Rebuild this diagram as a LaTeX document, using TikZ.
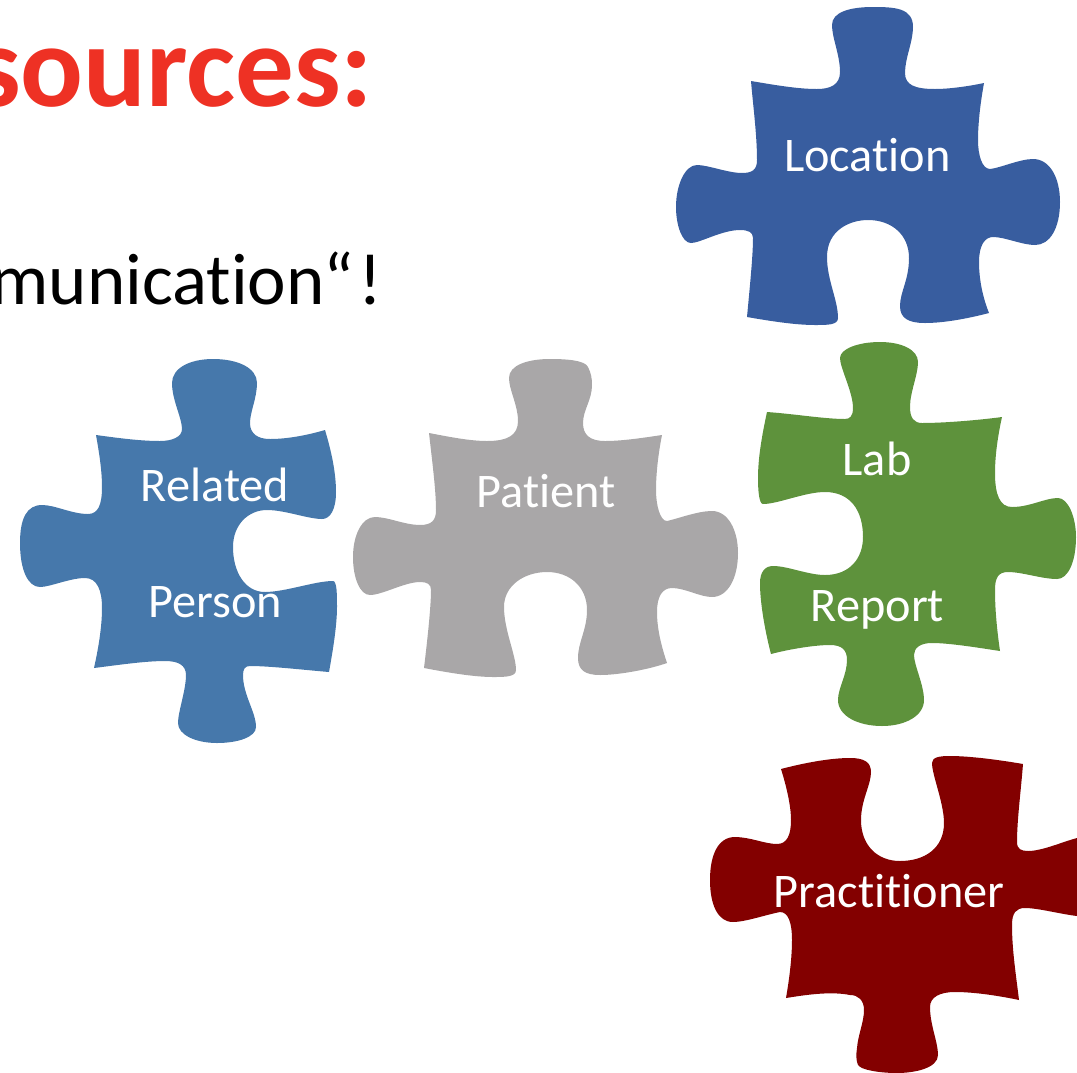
\documentclass[tikz,border=0pt]{standalone}
\usepackage{fontspec}
\setmainfont{Carlito}[Ligatures=CommonOff]
\definecolor{locblue}{HTML}{385D9F}
\definecolor{relblue}{HTML}{4678AB}
\definecolor{patgray}{HTML}{A9A7A8}
\definecolor{labgreen}{HTML}{5E923C}
\definecolor{pracred}{HTML}{830000}
\definecolor{titlered}{HTML}{EE3124}
\tikzset{
  piecelabel/.style={text=white,font=\fontsize{48.3}{56}\selectfont,inner sep=0pt,anchor=base},
  piece/.style={draw=none}
}
\begin{document}
\begin{tikzpicture}[x=1pt,y=-1pt]
\useasboundingbox (0,0) rectangle (1077,1072);
\clip (0,0) rectangle (1077,1072);
\node[font=\fontsize{117}{130}\selectfont\bfseries,text=titlered,inner sep=0pt,anchor=base east] (title) at (373.5,106) {sources:};
\node[font=\fontsize{73}{84}\selectfont,text=black,inner sep=0pt,anchor=base east] (sub) at (383,304) {munication“\kern5pt!};
% Location
\fill[locblue,piece] (751,81) .. controls (780,86) and (800,89) .. (817,89)
 .. controls (830,89) and (840,85) .. (840,72)
 .. controls (840,55) and (832,38) .. (832,25)
 .. controls (832,12) and (850,7) .. (873,7)
 .. controls (895,7) and (913,8) .. (913,27)
 .. controls (913,42) and (905,58) .. (905,73)
 .. controls (905,85) and (915,89) .. (935,89)
 .. controls (950,89) and (970,86) .. (984,83)
 .. controls (980,105) and (978,125) .. (978,140)
 .. controls (978,155) and (982,169) .. (990,169)
 .. controls (1000,168) and (1020,159) .. (1033,159)
 .. controls (1050,159) and (1060,178) .. (1060,202)
 .. controls (1060,228) and (1050,245) .. (1035,245)
 .. controls (1022,245) and (1005,237) .. (993,237)
 .. controls (985,237) and (979,245) .. (979,262)
 .. controls (979,280) and (983,298) .. (989,313)
 .. controls (970,318) and (945,323) .. (925,323)
 .. controls (908,323) and (900,318) .. (900,306)
 .. controls (900,292) and (909,280) .. (909,258)
 .. controls (909,235) and (892,220) .. (868,220)
 .. controls (850,220) and (827,230) .. (827,257)
 .. controls (827,280) and (838,300) .. (838,318)
 .. controls (838,325) and (828,325) .. (815,325)
 .. controls (795,325) and (770,321) .. (747,317)
 .. controls (750,285) and (753,255) .. (753,238)
 .. controls (753,232) and (748,230) .. (740,230)
 .. controls (722,230) and (700,243) .. (691,243)
 .. controls (682,243) and (676,225) .. (676,207)
 .. controls (676,185) and (685,165) .. (697,165)
 .. controls (708,165) and (728,173) .. (742,173)
 .. controls (752,173) and (757,170) .. (757,160)
 .. controls (757,135) and (753,105) .. (751,81) -- cycle;
\node[piecelabel] (location) at (867.5,171) {Location};
% Related Person
\fill[relblue,piece] (96,435) .. controls (118,438) and (140,441) .. (160,441)
 .. controls (172,441) and (182,437) .. (182,429)
 .. controls (182,418) and (172,400) .. (172,383)
 .. controls (172,368) and (190,359) .. (213,359)
 .. controls (238,359) and (257,368) .. (257,383)
 .. controls (257,398) and (250,412) .. (250,423)
 .. controls (250,434) and (258,439) .. (270,439)
 .. controls (288,439) and (308,435) .. (325,430)
 .. controls (331,450) and (336,472) .. (336,492)
 .. controls (336,510) and (330,519) .. (322,519)
 .. controls (308,519) and (285,510) .. (267,510)
 .. controls (248,510) and (233,525) .. (233,547)
 .. controls (233,572) and (245,592) .. (265,592)
 .. controls (285,592) and (315,581) .. (333,581)
 .. controls (337,581) and (337,595) .. (337,607)
 .. controls (337,625) and (333,650) .. (329,672)
 .. controls (305,670) and (270,666) .. (250,666)
 .. controls (245,666) and (243,669) .. (243,675)
 .. controls (243,695) and (256,712) .. (256,727)
 .. controls (256,737) and (238,743) .. (217,743)
 .. controls (196,743) and (178,735) .. (178,723)
 .. controls (178,712) and (186,690) .. (186,675)
 .. controls (186,665) and (178,661) .. (165,661)
 .. controls (145,661) and (118,665) .. (94,668)
 .. controls (98,650) and (102,628) .. (102,608)
 .. controls (102,590) and (97,578) .. (85,578)
 .. controls (70,578) and (50,587) .. (40,587)
 .. controls (28,587) and (20,570) .. (20,543)
 .. controls (20,518) and (27,505) .. (42,505)
 .. controls (55,505) and (72,514) .. (88,514)
 .. controls (98,514) and (102,505) .. (102,487)
 .. controls (102,470) and (99,452) .. (96,435) -- cycle;
\node[piecelabel] (related) at (215,501) {Related};
\node[piecelabel] (person) at (215,617) {Person};
% Patient
\fill[patgray,piece] (429,433) .. controls (450,437) and (470,441) .. (487,441)
 .. controls (508,441) and (518,435) .. (518,421)
 .. controls (518,405) and (509,390) .. (509,378)
 .. controls (509,365) and (528,359) .. (550,359)
 .. controls (565,359) and (585,360) .. (588,367)
 .. controls (591,373) and (592,378) .. (592,385)
 .. controls (592,400) and (583,410) .. (583,423)
 .. controls (583,435) and (590,441) .. (605,441)
 .. controls (622,441) and (642,438) .. (662,435)
 .. controls (658,455) and (656,475) .. (656,490)
 .. controls (656,505) and (660,521) .. (667,521)
 .. controls (680,518) and (698,511) .. (712,511)
 .. controls (728,511) and (738,530) .. (738,553)
 .. controls (738,578) and (728,597) .. (712,597)
 .. controls (700,597) and (685,588) .. (672,588)
 .. controls (662,588) and (657,597) .. (657,612)
 .. controls (657,630) and (662,648) .. (667,663)
 .. controls (650,669) and (620,675) .. (600,675)
 .. controls (585,675) and (578,670) .. (578,658)
 .. controls (578,642) and (587,630) .. (587,610)
 .. controls (587,587) and (570,572) .. (547,572)
 .. controls (525,572) and (504,585) .. (504,607)
 .. controls (504,630) and (516,655) .. (516,670)
 .. controls (516,677) and (505,677) .. (493,677)
 .. controls (475,677) and (450,673) .. (424,668)
 .. controls (428,635) and (431,605) .. (431,590)
 .. controls (431,584) and (427,582) .. (420,582)
 .. controls (405,582) and (382,595) .. (370,595)
 .. controls (360,595) and (353,578) .. (353,557)
 .. controls (353,535) and (362,517) .. (375,517)
 .. controls (388,517) and (405,525) .. (420,525)
 .. controls (432,525) and (436,520) .. (436,510)
 .. controls (436,490) and (432,460) .. (429,433) -- cycle;
\node[piecelabel] (patient) at (546,507) {Patient};
% Lab Report
\fill[labgreen,piece] (767,412) .. controls (795,414) and (825,419) .. (845,419)
 .. controls (850,419) and (853,416) .. (853,408)
 .. controls (853,392) and (840,368) .. (840,358)
 .. controls (840,349) and (858,342) .. (880,342)
 .. controls (902,342) and (918,350) .. (918,362)
 .. controls (918,375) and (910,392) .. (910,407)
 .. controls (910,418) and (914,423) .. (922,423)
 .. controls (945,423) and (980,420) .. (1002,417)
 .. controls (998,435) and (995,455) .. (995,473)
 .. controls (995,495) and (1000,507) .. (1012,507)
 .. controls (1030,507) and (1045,498) .. (1058,498)
 .. controls (1068,498) and (1076,517) .. (1076,537)
 .. controls (1076,562) and (1068,579) .. (1057,579)
 .. controls (1042,579) and (1022,572) .. (1008,572)
 .. controls (998,572) and (995,578) .. (995,590)
 .. controls (995,610) and (997,630) .. (1000,651)
 .. controls (980,648) and (950,643) .. (932,643)
 .. controls (920,643) and (914,648) .. (914,655)
 .. controls (914,665) and (924,685) .. (924,700)
 .. controls (924,716) and (905,726) .. (882,726)
 .. controls (858,726) and (838,716) .. (838,700)
 .. controls (838,688) and (847,675) .. (847,660)
 .. controls (847,650) and (842,645) .. (830,645)
 .. controls (815,645) and (790,649) .. (771,654)
 .. controls (766,635) and (760,605) .. (760,583)
 .. controls (760,572) and (765,566) .. (773,566)
 .. controls (788,566) and (808,575) .. (825,575)
 .. controls (850,575) and (863,558) .. (863,537)
 .. controls (863,510) and (850,492) .. (825,492)
 .. controls (805,492) and (778,504) .. (763,504)
 .. controls (759,504) and (758,490) .. (758,478)
 .. controls (758,458) and (762,435) .. (767,412) -- cycle;
\node[piecelabel] (lab) at (877,475) {Lab};
\node[piecelabel] (report) at (877.5,621) {Report};
% Practitioner
\fill[pracred,piece] (781,769) .. controls (800,764) and (828,758) .. (850,758)
 .. controls (864,758) and (871,762) .. (871,772)
 .. controls (871,785) and (861,800) .. (861,820)
 .. controls (861,845) and (877,861) .. (900,861)
 .. controls (925,861) and (944,848) .. (944,823)
 .. controls (944,803) and (932,775) .. (932,763)
 .. controls (932,757) and (940,756) .. (950,756)
 .. controls (970,756) and (1000,760) .. (1023,764)
 .. controls (1021,790) and (1017,820) .. (1017,842)
 .. controls (1017,849) and (1021,851) .. (1028,851)
 .. controls (1042,851) and (1062,842) .. (1077,838)
 -- (1077,916)
 .. controls (1060,914) and (1038,908) .. (1025,908)
 .. controls (1016,908) and (1012,913) .. (1012,925)
 .. controls (1012,950) and (1016,975) .. (1019,1000)
 .. controls (1000,996) and (975,992) .. (955,992)
 .. controls (940,992) and (930,997) .. (930,1007)
 .. controls (930,1025) and (938,1042) .. (938,1055)
 .. controls (938,1068) and (915,1073) .. (897,1073)
 .. controls (880,1073) and (861,1070) .. (858,1065)
 .. controls (856,1060) and (856,1055) .. (857,1048)
 .. controls (858,1035) and (864,1022) .. (864,1010)
 .. controls (864,1000) and (858,995) .. (850,995)
 .. controls (830,991) and (805,995) .. (786,998)
 .. controls (790,975) and (792,955) .. (792,940)
 .. controls (792,922) and (788,912) .. (780,912)
 .. controls (765,915) and (745,922) .. (733,922)
 .. controls (718,922) and (710,905) .. (710,880)
 .. controls (710,855) and (718,837) .. (735,837)
 .. controls (750,837) and (765,844) .. (777,844)
 .. controls (787,844) and (791,835) .. (791,820)
 .. controls (791,805) and (786,785) .. (781,769) -- cycle;
\node[piecelabel] (practitioner) at (889,907) {Practitioner};
\end{tikzpicture}
\end{document}
